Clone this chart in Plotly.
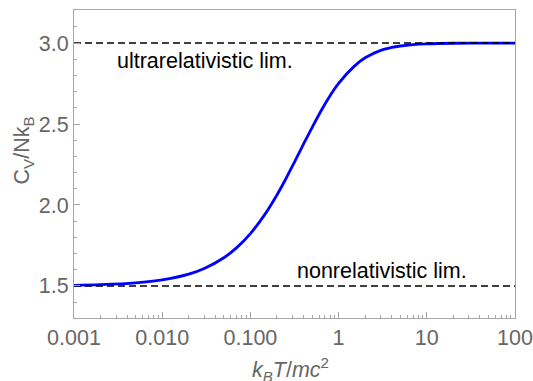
import plotly.graph_objects as go

# Reduced temperature k_B T / m c^2 and heat capacity C_V / N k_B
theta = [0.001, 0.002, 0.005, 0.01, 0.02, 0.03, 0.05, 0.07, 0.1, 0.15, 0.2, 0.25,
         0.3, 0.333, 0.4, 0.5, 0.667, 0.8, 1.0, 1.5, 2.0, 3.0, 4.0, 5.0, 7.0, 10.0,
         20.0, 50.0, 100.0]
cv = [1.5037, 1.5075, 1.5186, 1.5369, 1.5728, 1.6076, 1.6740, 1.7365, 1.8233, 1.9513,
      2.0619, 2.1572, 2.2415, 2.2887, 2.3750, 2.4778, 2.6031, 2.6750, 2.7515, 2.8560,
      2.9089, 2.9550, 2.9725, 2.9817, 2.9904, 2.9952, 2.9988, 2.9998, 3.0000]

limit_x = [0.001, 100.0]
nonrel_limit = [1.5, 1.5]
ultra_limit = [3.0, 3.0]

xtick_vals = [0.001, 0.01, 0.1, 1, 10, 100]
xtick_text = ["0.001", "0.010", "0.100", "1", "10", "100"]
xminor_vals = [k * 10.0 ** e for e in range(-3, 2) for k in range(2, 10)]
ytick_vals = [1.5, 2.0, 2.5, 3.0]
ytick_text = ["1.5", "2.0", "2.5", "3.0"]
yminor_vals = [1.4, 1.6, 1.7, 1.8, 1.9, 2.1, 2.2, 2.3, 2.4, 2.6, 2.7, 2.8, 2.9, 3.1, 3.2]

FONT = "Liberation Sans, Arial, sans-serif"
GREY = "#666666"
FRAME = "#a6a6a6"
FS = 21.5

fig = go.Figure()
fig.add_trace(go.Scatter(x=theta, y=cv, mode="lines", line=dict(color="#0000ff", width=2.8, shape="spline"),
                         showlegend=False, hoverinfo="skip"))
fig.add_trace(go.Scatter(x=limit_x, y=nonrel_limit, mode="lines",
                         line=dict(color="black", width=1.4, dash="7px,4px"), showlegend=False))
fig.add_trace(go.Scatter(x=limit_x, y=ultra_limit, mode="lines",
                         line=dict(color="black", width=1.4, dash="7px,4px"), showlegend=False))

fig.update_layout(
    width=533, height=381,
    margin=dict(l=74, r=18, t=10, b=63),
    paper_bgcolor="white", plot_bgcolor="white",
    font=dict(family=FONT, size=FS, color=GREY),
    xaxis=dict(type="log", range=[-3, 2], tickmode="array", tickvals=xtick_vals, ticktext=xtick_text,
               ticks="inside", ticklen=6, tickwidth=1, tickcolor=FRAME, automargin=False,
               showline=True, linecolor=FRAME, linewidth=1, mirror=True, showgrid=False, zeroline=False,
               tickfont=dict(family=FONT, size=FS, color=GREY),
               minor=dict(tickmode="array", tickvals=xminor_vals, ticks="inside", ticklen=3,
                          tickcolor=FRAME, showgrid=False)),
    yaxis=dict(range=[1.302, 3.204], tickmode="array", tickvals=ytick_vals, ticktext=ytick_text,
               ticks="inside", ticklen=6, tickwidth=1, tickcolor=FRAME, automargin=False,
               showline=True, linecolor=FRAME, linewidth=1, mirror=True, showgrid=False, zeroline=False,
               tickfont=dict(family=FONT, size=FS, color=GREY),
               minor=dict(tickmode="array", tickvals=yminor_vals, ticks="inside", ticklen=3,
                          tickcolor=FRAME, showgrid=False)),
)

fig.add_annotation(text="ultrarelativistic lim.", x=-2.535, y=2.892, xref="x", yref="y",
                   xanchor="left", yanchor="middle", showarrow=False,
                   font=dict(family=FONT, size=FS, color="black"))
fig.add_annotation(text="nonrelativistic lim.", x=-0.494, y=1.591, xref="x", yref="y",
                   xanchor="left", yanchor="middle", showarrow=False,
                   font=dict(family=FONT, size=FS, color="black"))
fig.add_annotation(text="C<sub>V</sub>/Nk<sub>B</sub>", x=-0.115, y=0.545, xref="paper", yref="paper",
                   xanchor="center", yanchor="middle", textangle=-90, showarrow=False,
                   font=dict(family=FONT, size=FS, color=GREY))
fig.add_annotation(text="<i>k</i><sub><i>B</i></sub><i>T</i>/<i>mc</i><sup>2</sup>", x=0.49, y=-0.166,
                   xref="paper", yref="paper", xanchor="center", yanchor="middle", showarrow=False,
                   font=dict(family=FONT, size=FS, color=GREY))

fig.write_html("out.html", config={"displayModeBar": False},
               post_script="document.body.style.margin='0';document.body.style.overflow='hidden';")
